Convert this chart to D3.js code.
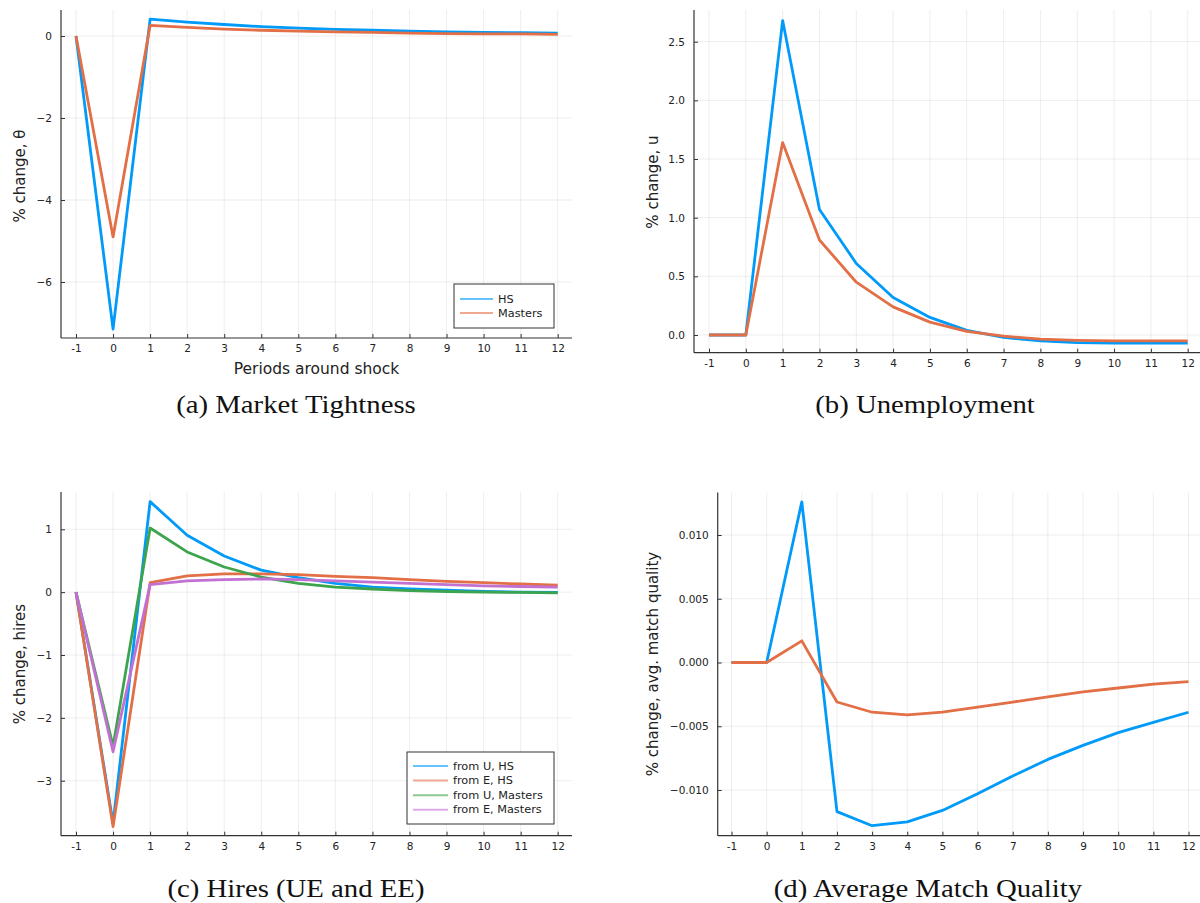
<!DOCTYPE html>
<html>
<head>
<meta charset="utf-8">
<script src="https://cdn.jsdelivr.net/npm/d3@7"></script>
<style>
  body { margin: 0; background: #fff; }
  svg { display: block; }
  .tick text { font-family: "DejaVu Sans", sans-serif; font-size: 10.5px; fill: #222; }
</style>
</head>
<body>
<script>
// periods around shock
var periods = [-1, 0, 1, 2, 3, 4, 5, 6, 7, 8, 9, 10, 11, 12];

// (a) market tightness
var thetaHS      = [0, -7.15, 0.41, 0.34, 0.28, 0.23, 0.19, 0.16, 0.14, 0.12, 0.10, 0.09, 0.08, 0.07];
var thetaMasters = [0, -4.90, 0.26, 0.21, 0.17, 0.14, 0.12, 0.10, 0.09, 0.07, 0.06, 0.05, 0.05, 0.04];

// (b) unemployment
var unempHS      = [0, 0, 2.68, 1.07, 0.61, 0.32, 0.15, 0.04, -0.02, -0.05, -0.065, -0.07, -0.07, -0.07];
var unempMasters = [0, 0, 1.64, 0.81, 0.45, 0.24, 0.11, 0.03, -0.01, -0.035, -0.045, -0.05, -0.05, -0.05];

// (c) hires
var hiresUHS      = [0, -3.68, 1.44, 0.905, 0.575, 0.35, 0.23, 0.14, 0.08, 0.05, 0.03, 0.01, 0.0, -0.005];
var hiresEHS      = [0, -3.73, 0.15, 0.26, 0.29, 0.29, 0.28, 0.25, 0.23, 0.20, 0.17, 0.15, 0.13, 0.11];
var hiresUMasters = [0, -2.45, 1.02, 0.64, 0.40, 0.24, 0.14, 0.08, 0.05, 0.025, 0.01, 0.0, -0.005, -0.01];
var hiresEMasters = [0, -2.54, 0.12, 0.18, 0.20, 0.21, 0.20, 0.18, 0.16, 0.14, 0.12, 0.10, 0.09, 0.08];

// (d) average match quality
var matchHS      = [0, 0, 0.0126, -0.0117, -0.0128, -0.0125, -0.0116, -0.0103, -0.0089, -0.0076, -0.0065, -0.0055, -0.0047, -0.0039];
var matchMasters = [0, 0, 0.0017, -0.0031, -0.0039, -0.0041, -0.0039, -0.0035, -0.0031, -0.0027, -0.0023, -0.0020, -0.0017, -0.0015];

var yTicksA = [0, -2, -4, -6];
var yTicksB = [0, 0.5, 1, 1.5, 2, 2.5];
var yTicksC = [1, 0, -1, -2, -3];
var yTicksD = [0.01, 0.005, 0, -0.005, -0.01];

var legendA = ["HS", "Masters"];
var legendC = ["from U, HS", "from E, HS", "from U, Masters", "from E, Masters"];

var colors = ["#009af9", "#e26f46", "#3da44d", "#c271d2"];

var svg = d3.select("body").append("svg")
  .attr("width", 1200)
  .attr("height", 903);

function drawPanel(p) {
  // x scale mapped from tick -1 to tick 12, y scale from two ticks
  var x = d3.scaleLinear().domain([-1, 12]).range([p.x0, p.x12]);
  var y = d3.scaleLinear().domain(p.yDom).range(p.yRng);
  var g = svg.append("g");

  // grid
  g.selectAll(".vgrid").data(periods).enter().append("line")
    .attr("x1", function(d) { return x(d); }).attr("x2", function(d) { return x(d); })
    .attr("y1", p.top).attr("y2", p.bottom)
    .attr("stroke", "#000").attr("stroke-opacity", 0.07).attr("stroke-width", 1);
  g.selectAll(".hgrid").data(p.yTicks).enter().append("line")
    .attr("x1", p.left).attr("x2", p.right)
    .attr("y1", function(d) { return y(d); }).attr("y2", function(d) { return y(d); })
    .attr("stroke", "#000").attr("stroke-opacity", 0.07).attr("stroke-width", 1);

  // axes
  var xAxis = g.append("g").attr("transform", "translate(0," + p.bottom + ")")
    .call(d3.axisBottom(x).tickValues(periods).tickSize(-4).tickPadding(7)
      .tickFormat(function(d) { return d < 0 ? "-" + Math.abs(d) : String(d); }));
  var yAxis = g.append("g").attr("transform", "translate(" + p.left + ",0)")
    .call(d3.axisLeft(y).tickValues(p.yTicks).tickSize(-4).tickPadding(9).tickFormat(d3.format(p.fmt)));
  xAxis.select(".domain").remove();
  yAxis.select(".domain").remove();
  g.selectAll(".tick line").attr("stroke", "#333");

  g.append("line").attr("x1", p.left).attr("x2", p.right)
    .attr("y1", p.bottom).attr("y2", p.bottom).attr("stroke", "#333").attr("stroke-width", 1.2);
  g.append("line").attr("x1", p.left).attr("x2", p.left)
    .attr("y1", p.top).attr("y2", p.bottom).attr("stroke", "#333").attr("stroke-width", 1.2);

  // lines
  var line = d3.line()
    .x(function(d, i) { return x(periods[i]); })
    .y(function(d) { return y(d); });
  p.series.forEach(function(s, i) {
    g.append("path").datum(s)
      .attr("d", line)
      .attr("fill", "none")
      .attr("stroke", colors[i])
      .attr("stroke-width", 2.8)
      .attr("stroke-linejoin", "round");
  });

  // y label
  g.append("text")
    .attr("transform", "translate(" + p.yLabelX + "," + p.yLabelY + ") rotate(-90)")
    .attr("text-anchor", "middle")
    .attr("dominant-baseline", "central")
    .style("font-family", "DejaVu Sans, sans-serif")
    .style("font-size", "15px")
    .style("fill", "#222")
    .text(p.yLabel);

  // x label
  if (p.xLabel) {
    g.append("text")
      .attr("x", (p.left + p.right) / 2).attr("y", p.bottom + 36)
      .attr("text-anchor", "middle")
      .style("font-family", "DejaVu Sans, sans-serif")
      .style("font-size", "15.5px")
      .style("fill", "#222")
      .text(p.xLabel);
  }

  // legend
  if (p.legend) {
    var L = p.legend;
    g.append("rect")
      .attr("x", L.x).attr("y", L.y).attr("width", L.w).attr("height", L.h)
      .attr("fill", "#fff").attr("stroke", "#333").attr("stroke-width", 1);
    L.labels.forEach(function(lab, i) {
      var ly = L.y + L.first + i * L.step;
      g.append("line")
        .attr("x1", L.x + 6).attr("x2", L.x + 6 + L.len)
        .attr("y1", ly).attr("y2", ly)
        .attr("stroke", colors[i]).attr("stroke-width", 2).attr("stroke-opacity", 0.6);
      g.append("text")
        .attr("x", L.x + 11 + L.len).attr("y", ly)
        .attr("dominant-baseline", "central")
        .style("font-family", "DejaVu Sans, sans-serif")
        .style("font-size", "11.3px")
        .style("fill", "#222")
        .text(lab);
    });
  }

  // caption (widened a little to look like the book face of the original)
  var cap = svg.append("text")
    .attr("x", p.capX).attr("y", p.capY)
    .attr("text-anchor", "middle")
    .style("font-family", "Liberation Serif, serif")
    .style("font-size", "25px")
    .style("fill", "#111")
    .text(p.caption);
  var w = cap.node().getComputedTextLength();
  cap.attr("textLength", w * 1.15).attr("lengthAdjust", "spacingAndGlyphs");
}

drawPanel({
  left: 61, right: 572, top: 10, bottom: 338,
  x0: 76, x12: 557.7,
  yDom: [0, -6], yRng: [36, 282], yTicks: yTicksA, fmt: "d",
  series: [thetaHS, thetaMasters],
  yLabel: "% change, θ", yLabelX: 20, yLabelY: 176,
  xLabel: "Periods around shock",
  legend: { x: 454, y: 284, w: 100, h: 44, first: 15, step: 14, len: 33, labels: legendA },
  caption: "(a) Market Tightness", capX: 296, capY: 413
});

drawPanel({
  left: 694, right: 1215, top: 10, bottom: 352.7,
  x0: 709, x12: 1187.7,
  yDom: [0, 2.5], yRng: [335, 41.7], yTicks: yTicksB, fmt: ".1f",
  series: [unempHS, unempMasters],
  yLabel: "% change, u", yLabelX: 653, yLabelY: 182,
  caption: "(b) Unemployment", capX: 925, capY: 413
});

drawPanel({
  left: 61, right: 572, top: 492, bottom: 835.7,
  x0: 76, x12: 557.7,
  yDom: [1, -3], yRng: [529.3, 780.7], yTicks: yTicksC, fmt: "d",
  series: [hiresUHS, hiresEHS, hiresUMasters, hiresEMasters],
  yLabel: "% change, hires", yLabelX: 20, yLabelY: 664,
  legend: { x: 407, y: 752, w: 147, h: 72, first: 14, step: 14.6, len: 35, labels: legendC },
  caption: "(c) Hires (UE and EE)", capX: 296, capY: 897
});

drawPanel({
  left: 717.7, right: 1215, top: 492.5, bottom: 835.7,
  x0: 731.5, x12: 1188.5,
  yDom: [0.01, -0.01], yRng: [535, 790], yTicks: yTicksD, fmt: ".3f",
  series: [matchHS, matchMasters],
  yLabel: "% change, avg. match quality", yLabelX: 653, yLabelY: 664,
  caption: "(d) Average Match Quality", capX: 928, capY: 897
});
</script>
</body>
</html>
